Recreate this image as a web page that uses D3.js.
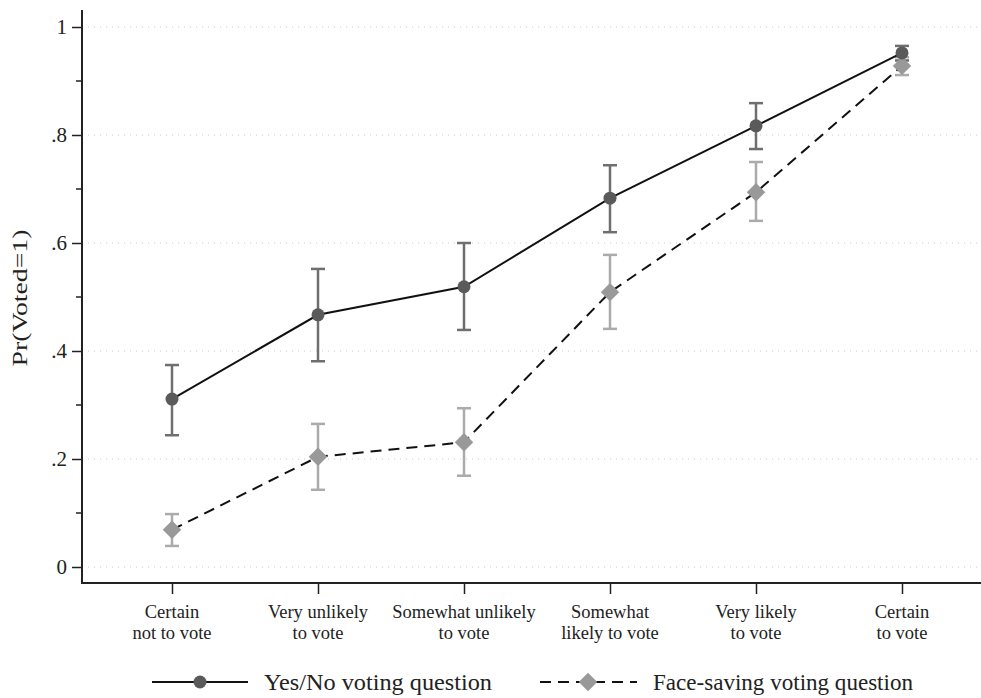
<!DOCTYPE html>
<html><head><meta charset="utf-8">
<script src="https://cdn.jsdelivr.net/npm/d3@7"></script>
<style>body{margin:0;background:#fff}svg{display:block}text{font-family:"Liberation Serif","DejaVu Serif",serif;fill:#222}</style>
</head><body>
<script>
const categories = [["Certain","not to vote"],["Very unlikely","to vote"],["Somewhat unlikely","to vote"],["Somewhat","likely to vote"],["Very likely","to vote"],["Certain","to vote"]];
const yesNo = [0.311, 0.467, 0.519, 0.683, 0.817, 0.952];
const yesNoLo = [0.244, 0.381, 0.439, 0.620, 0.774, 0.938];
const yesNoHi = [0.374, 0.552, 0.600, 0.744, 0.859, 0.965];
const face = [0.069, 0.204, 0.231, 0.509, 0.694, 0.928];
const faceLo = [0.039, 0.143, 0.169, 0.441, 0.641, 0.911];
const faceHi = [0.098, 0.265, 0.294, 0.578, 0.750, 0.944];
const yTicks = [0, 0.2, 0.4, 0.6, 0.8, 1];
const yTickLabels = ["0", ".2", ".4", ".6", ".8", "1"];
const yMinor = [0.1, 0.3, 0.5, 0.7, 0.9];
const legendLabels = ["Yes/No voting question", "Face-saving voting question"];

const W = 981, H = 698;
const svg = d3.select("body").append("svg").attr("width", W).attr("height", H);
const x = d3.scalePoint().domain(d3.range(categories.length)).range([172, 902]);
const y = d3.scaleLinear().domain([0, 1]).range([567, 27]);
const axisX0 = 82, axisY0 = 583;

// gridlines
svg.append("g").selectAll("line").data(yTicks).join("line")
  .attr("x1", 88).attr("x2", W).attr("y1", d => y(d)).attr("y2", d => y(d))
  .attr("stroke", "#c8c8c8").attr("stroke-width", 1).attr("stroke-dasharray", "1,5");

// y axis
const yAxis = d3.axisLeft(y).tickValues(yTicks).tickFormat((d, i) => yTickLabels[i]).tickSize(10).tickPadding(5);
const gy = svg.append("g").attr("transform", `translate(${axisX0},0)`).call(yAxis);
gy.select(".domain").remove();
gy.selectAll(".tick line").attr("stroke", "#222").attr("stroke-width", 1.5);
gy.selectAll(".tick text").attr("font-size", 21).attr("fill", "#222");
svg.append("g").selectAll("line").data(yMinor).join("line")
  .attr("x1", axisX0 - 6).attr("x2", axisX0).attr("y1", d => y(d)).attr("y2", d => y(d))
  .attr("stroke", "#222").attr("stroke-width", 1.5);
svg.append("line").attr("x1", axisX0).attr("x2", axisX0).attr("y1", 10).attr("y2", axisY0 + 1)
  .attr("stroke", "#222").attr("stroke-width", 2);

// x axis
svg.append("line").attr("x1", axisX0).attr("x2", W).attr("y1", axisY0).attr("y2", axisY0)
  .attr("stroke", "#222").attr("stroke-width", 2);
const xAxis = d3.axisBottom(x).tickSize(11).tickFormat(() => "");
const gx = svg.append("g").attr("transform", `translate(0,${axisY0})`).call(xAxis);
gx.select(".domain").remove();
gx.selectAll(".tick line").attr("stroke", "#222").attr("stroke-width", 1.5);
const xl = svg.append("g").selectAll("text").data(categories).join("text")
  .attr("text-anchor", "middle").attr("font-size", 18.5)
  .attr("transform", (d, i) => `translate(${x(i)},0)`);
xl.append("tspan").attr("x", 0).attr("y", 618).text(d => d[0]);
xl.append("tspan").attr("x", 0).attr("y", 639).text(d => d[1]);

// y label
svg.append("text").attr("transform", "translate(27,298) rotate(-90)")
  .attr("text-anchor", "middle").attr("font-size", 22)
  .attr("textLength", 137).attr("lengthAdjust", "spacingAndGlyphs").text("Pr(Voted=1)");

const idx = d3.range(categories.length);
function errbars(lo, hi, color) {
  const g = svg.append("g").attr("stroke", color).attr("stroke-width", 2.5);
  g.selectAll(".v").data(idx).join("line").attr("x1", i => x(i)).attr("x2", i => x(i))
    .attr("y1", i => y(lo[i])).attr("y2", i => y(hi[i]));
  g.selectAll(".t").data(idx).join("line").attr("x1", i => x(i) - 7).attr("x2", i => x(i) + 7)
    .attr("y1", i => y(hi[i])).attr("y2", i => y(hi[i]));
  g.selectAll(".b").data(idx).join("line").attr("x1", i => x(i) - 7).attr("x2", i => x(i) + 7)
    .attr("y1", i => y(lo[i])).attr("y2", i => y(lo[i]));
}
errbars(yesNoLo, yesNoHi, "#6f6f6f");
errbars(faceLo, faceHi, "#ababab");

const line = vals => d3.line().x(i => x(i)).y(i => y(vals[i]))(idx);
svg.append("path").attr("d", line(yesNo)).attr("fill", "none").attr("stroke", "#111").attr("stroke-width", 2);
svg.append("path").attr("d", line(face)).attr("fill", "none").attr("stroke", "#111").attr("stroke-width", 2).attr("stroke-dasharray", "11,7");

const diamond = d3.symbol().type(d3.symbolSquare).size(170);
svg.append("g").selectAll("path").data(idx).join("path").attr("d", diamond)
  .attr("transform", i => `translate(${x(i)},${y(face[i])}) rotate(45)`).attr("fill", "#999");
svg.append("g").selectAll("circle").data(idx).join("circle")
  .attr("cx", i => x(i)).attr("cy", i => y(yesNo[i])).attr("r", 6.5).attr("fill", "#5a5a5a");

// legend
const ly = 682;
svg.append("line").attr("x1", 152).attr("x2", 248).attr("y1", ly).attr("y2", ly).attr("stroke", "#111").attr("stroke-width", 2);
svg.append("circle").attr("cx", 200).attr("cy", ly).attr("r", 6.5).attr("fill", "#5a5a5a");
svg.append("text").attr("x", 264).attr("y", ly + 8).attr("font-size", 23)
  .attr("textLength", 228).attr("lengthAdjust", "spacingAndGlyphs").text(legendLabels[0]);
svg.append("line").attr("x1", 540).attr("x2", 637).attr("y1", ly).attr("y2", ly).attr("stroke", "#111").attr("stroke-width", 2).attr("stroke-dasharray", "11,7");
svg.append("path").attr("d", diamond).attr("transform", `translate(588,${ly}) rotate(45)`).attr("fill", "#999");
svg.append("text").attr("x", 653).attr("y", ly + 8).attr("font-size", 23)
  .attr("textLength", 260).attr("lengthAdjust", "spacingAndGlyphs").text(legendLabels[1]);
</script>
</body></html>
